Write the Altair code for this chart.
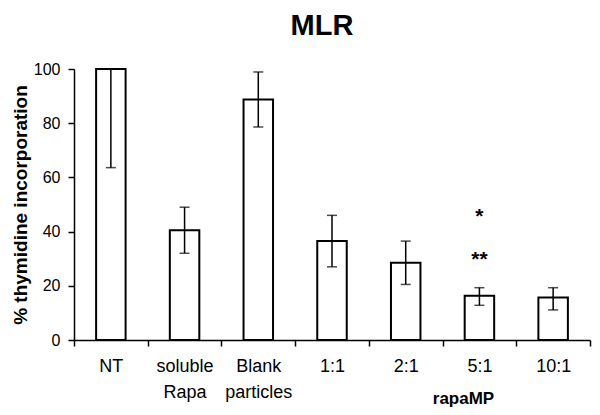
import altair as alt
import pandas as pd

categories = ["NT", "soluble\nRapa", "Blank\nparticles", "1:1", "2:1", "5:1", "10:1"]
means = [100, 40.5, 88.7, 36.5, 28.5, 16.3, 15.7]
err_low = [63.6, 32.0, 78.6, 27.0, 20.5, 12.8, 11.1]
err_high = [100, 49.0, 98.9, 46.0, 36.5, 19.3, 19.3]
star_labels = ["*", "**"]
star_cat = ["5:1", "5:1"]
star_y = [45.5, 29.5]

df = pd.DataFrame({"cat": categories, "mean": means, "lo": err_low, "hi": err_high})
stars = pd.DataFrame({"cat": star_cat, "y": star_y, "t": star_labels})

FONT = "Liberation Sans"

x = alt.X("cat:N", sort=categories,
          scale=alt.Scale(paddingInner=0, paddingOuter=0),
          axis=alt.Axis(title="rapaMP", titleX=389, titleY=63, titleAlign="center",
                        titleBaseline="alphabetic", titleFontSize=17,
                        labelAngle=0, labelExpr="split(datum.label, '\\n')", labelPadding=11,
                        labelFontSize=18, labelLineHeight=26,
                        tickBand="extent"))
y_scale = alt.Scale(domain=[0, 100], nice=False)

bars = alt.Chart(df).mark_bar(width={"band": 0.4}, fill="white", stroke="black", strokeWidth=2).encode(
    x=x,
    y=alt.Y("mean:Q", scale=y_scale,
            axis=alt.Axis(title="% thymidine incorporation", titlePadding=3, titleFontSize=19,
                          values=[0, 20, 40, 60, 80, 100], grid=False, labelPadding=8,
                          labelFontSize=16))
)

xs = alt.X("cat:N", sort=categories)
rules = alt.Chart(df).mark_rule(color="black", strokeWidth=1.5).encode(
    x=xs, y="lo:Q", y2="hi:Q")
cap_lo = alt.Chart(df).mark_tick(color="black", orient="horizontal", size=10, thickness=1.5).encode(
    x=xs, y="lo:Q")
cap_hi = alt.Chart(df).mark_tick(color="black", orient="horizontal", size=10, thickness=1.5).encode(
    x=xs, y="hi:Q")

star_text = alt.Chart(stars).mark_text(font=FONT, fontSize=21, fontWeight="bold", color="black", baseline="middle").encode(
    x=xs, y="y:Q", text="t:N")

chart = alt.layer(bars, rules, cap_lo, cap_hi, star_text).properties(
    width=516, height=271, background="white",
    autosize=alt.AutoSizeParams(type="none"),
    title=alt.TitleParams("MLR", font=FONT, fontSize=29, fontWeight="bold", color="black",
                          offset=20, anchor="middle", frame="group", dx=-10),
    padding={"left": 66, "top": 61, "right": 2, "bottom": 70},
).configure_view(stroke=None).configure_axis(
    labelFont=FONT, labelColor="black",
    titleFont=FONT, titleFontWeight="bold", titleColor="black",
    tickSize=6, tickColor="black", tickWidth=1.5,
    domainColor="black", domainWidth=1.5, grid=False)

chart.save("out.html", embed_options={"renderer": "svg", "actions": False})
